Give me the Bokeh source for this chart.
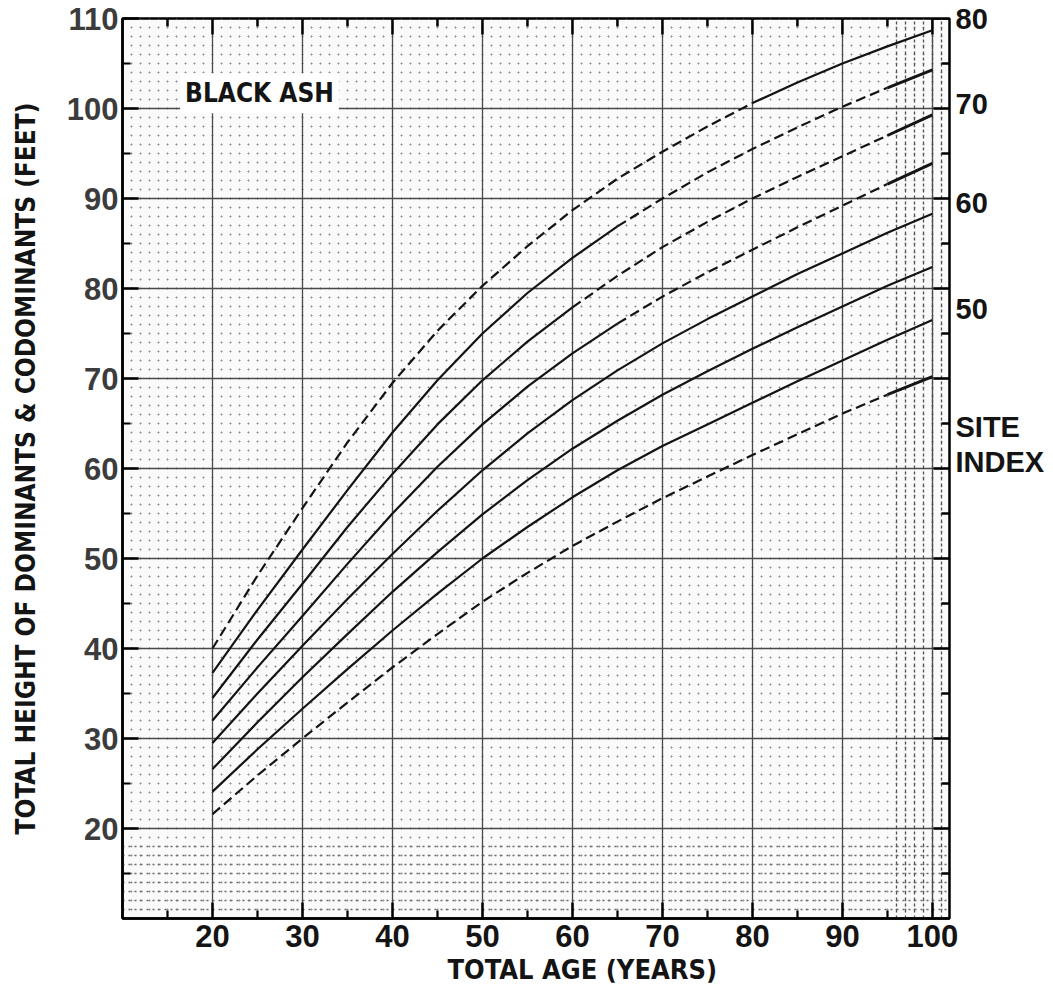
from bokeh.plotting import figure
from bokeh.models import Range1d, LinearAxis, FixedTicker, SingleIntervalTicker, Grid, Label, Title
from bokeh.embed import file_html
from bokeh.resources import INLINE

# ---------------- data ----------------
ages = [20, 25, 30, 35, 40, 45, 50, 55, 60, 65, 70, 75, 80, 85, 90, 95, 100]

si80 = [40.0, 48.1, 55.6, 62.9, 69.5, 75.3, 80.3, 84.7, 88.7, 92.2, 95.2, 98.0, 100.6, 102.9, 105.0, 106.9, 108.7]
si75 = [37.3, 44.3, 51.0, 57.6, 64.0, 69.8, 75.0, 79.5, 83.4, 86.9, 90.0, 92.9, 95.5, 97.9, 100.2, 102.3, 104.3]
si70 = [34.5, 41.0, 47.2, 53.5, 59.4, 64.9, 69.8, 74.1, 77.9, 81.4, 84.6, 87.4, 90.0, 92.4, 94.7, 97.0, 99.3]
si65 = [32.0, 37.9, 43.6, 49.4, 55.0, 60.2, 64.9, 69.1, 72.8, 76.1, 79.1, 81.8, 84.3, 86.8, 89.2, 91.6, 93.9]
si60 = [29.5, 35.0, 40.3, 45.5, 50.5, 55.3, 59.8, 63.9, 67.6, 70.9, 73.9, 76.6, 79.1, 81.6, 83.9, 86.2, 88.3]
si55 = [26.6, 31.8, 36.8, 41.6, 46.3, 50.7, 54.9, 58.7, 62.2, 65.3, 68.2, 70.8, 73.3, 75.7, 78.0, 80.3, 82.4]
si50 = [24.1, 28.8, 33.3, 37.7, 42.0, 46.1, 50.0, 53.5, 56.8, 59.8, 62.5, 64.9, 67.3, 69.7, 72.0, 74.3, 76.5]
si45 = [21.6, 25.9, 30.0, 34.0, 37.9, 41.6, 45.2, 48.4, 51.4, 54.1, 56.7, 59.1, 61.5, 63.8, 66.1, 68.2, 70.2]

site_index = [80, 75, 70, 65, 60, 55, 50, 45]
heights = [si80, si75, si70, si65, si60, si55, si50, si45]

# solid / dashed portions of each curve (age ranges)
segments = {
    80: [(20, 80, "dashed"), (80, 100, "solid")],
    75: [(20, 65, "solid"), (65, 95, "dashed"), (95, 100, "solid")],
    70: [(20, 60, "solid"), (60, 95, "dashed"), (95, 100, "solid")],
    65: [(20, 65, "solid"), (65, 95, "dashed"), (95, 100, "solid")],
    60: [(20, 100, "solid")],
    55: [(20, 100, "solid")],
    50: [(20, 100, "solid")],
    45: [(20, 95, "dashed"), (95, 100, "solid")],
}

x_ticks = [20, 30, 40, 50, 60, 70, 80, 90, 100]
x_minor = [15, 25, 35, 45, 55, 65, 75, 85, 95]
y_ticks = [20, 30, 40, 50, 60, 70, 80, 90, 100, 110]
y_minor = [15, 25, 35, 45, 55, 65, 75, 85, 95, 105]
right_labelled = [80, 70, 60, 50]
site_index_words = {64.6: "SITE", 60.7: "INDEX"}

TITLE_FONT = "DejaVu Sans Condensed, Roboto"
NUM_FONT = "Liberation Sans"
INK = "#141414"

X0, X1, Y0, Y1 = 10, 101.9, 10, 110

p = figure(width=1050, height=996,
           x_range=Range1d(X0, X1), y_range=Range1d(Y0, Y1),
           x_axis_type=None, y_axis_type=None,
           output_backend="svg", toolbar_location=None,
           min_border_left=122, min_border_right=101,
           min_border_top=18, min_border_bottom=78)
p.background_fill_color = "#fafafa"
p.border_fill_color = "white"
p.outline_line_color = "black"
p.outline_line_width = 2.5

# ---------------- graph-paper grid ----------------
grids = [
    Grid(dimension=0, ticker=SingleIntervalTicker(interval=1), grid_line_color="#8e8e8e",
         grid_line_width=1, grid_line_dash="2 7", grid_line_dash_offset=1),
    Grid(dimension=1, ticker=SingleIntervalTicker(interval=1), grid_line_color="#8e8e8e",
         grid_line_width=1, grid_line_dash="2 7", grid_line_dash_offset=1),
    Grid(dimension=0, ticker=SingleIntervalTicker(interval=1), bounds=(96, 101),
         grid_line_color="#505050", grid_line_width=1.3, grid_line_dash="3 3"),
    Grid(dimension=1, ticker=SingleIntervalTicker(interval=1), bounds=(11, 18),
         grid_line_color="#6a6a6a", grid_line_width=1.3, grid_line_dash="2 4"),
    Grid(dimension=0, ticker=SingleIntervalTicker(interval=10), grid_line_color="#4a4a4a",
         grid_line_width=1.3),
    Grid(dimension=1, ticker=SingleIntervalTicker(interval=10), grid_line_color="#4a4a4a",
         grid_line_width=1.3),
]
for g in grids:
    p.add_layout(g)

# ---------------- inward frame ticks on the top and right edges ----------------
px_x = (X1 - X0) / 827.0   # data units per pixel (x)
px_y = (Y1 - Y0) / 900.0   # data units per pixel (y)
MAJ, MIN = 16, 8
for ticks, length in ((y_ticks, MAJ), (y_minor, MIN)):
    p.segment(x0=[X1] * len(ticks), y0=ticks, x1=[X1 - length * px_x] * len(ticks), y1=ticks,
              line_color="black", line_width=2.5)
for ticks, length in ((x_ticks, MAJ), (x_minor, MIN)):
    p.segment(x0=ticks, y0=[Y1] * len(ticks), x1=ticks, y1=[Y1 - length * px_y] * len(ticks),
              line_color="black", line_width=2.5)

# ---------------- curves ----------------
for si, h in zip(site_index, heights):
    for a0, a1, style in segments[si]:
        xs = [a for a in ages if a0 <= a <= a1]
        ys = [hv for a, hv in zip(ages, h) if a0 <= a <= a1]
        thick = a0 >= 95
        p.line(xs, ys, line_color=INK, line_width=3.0 if thick else 2.2,
               line_dash="solid" if style == "solid" else "10 5",
               line_join="round", line_cap="butt")

# ---------------- axes ----------------
def style_axis(ax):
    ax.axis_line_color = "black"
    ax.axis_line_width = 2.5
    ax.major_tick_in = MAJ
    ax.major_tick_out = 0
    ax.minor_tick_in = MIN
    ax.minor_tick_out = 0
    ax.major_tick_line_color = "black"
    ax.major_tick_line_width = 2.5
    ax.minor_tick_line_color = "black"
    ax.minor_tick_line_width = 2.2

bottom = LinearAxis(ticker=FixedTicker(ticks=x_ticks, minor_ticks=x_minor))
style_axis(bottom)
bottom.major_label_text_font = NUM_FONT
bottom.major_label_text_font_style = "bold"
bottom.major_label_text_font_size = "31px"
bottom.major_label_text_color = INK
bottom.major_label_standoff = 6
p.add_layout(bottom, "below")

left = LinearAxis(ticker=FixedTicker(ticks=y_ticks, minor_ticks=y_minor),
                  axis_label="TOTAL HEIGHT OF DOMINANTS & CODOMINANTS (FEET)")
style_axis(left)
left.major_label_text_font = NUM_FONT
left.major_label_text_font_style = "bold"
left.major_label_text_font_size = "31px"
left.major_label_text_color = "#3c3c3c"
left.major_label_standoff = 4
left.axis_label_text_font = TITLE_FONT
left.axis_label_text_font_style = "bold"
left.axis_label_text_font_size = "26px"
left.axis_label_text_color = INK
left.axis_label_standoff = 23
p.add_layout(left, "left")

# site-index labels at the right, at the height each labelled curve ends
lift = 1.2
ends = {si: h[-1] + lift for si, h in zip(site_index, heights) if si in right_labelled}
overrides = {v: str(si) for si, v in ends.items()}
overrides.update(site_index_words)
right_si = LinearAxis(ticker=FixedTicker(ticks=list(ends.values()) + list(site_index_words.keys())),
                      major_label_overrides=overrides)
right_si.axis_line_color = None
right_si.major_tick_line_color = None
right_si.major_tick_in = 0
right_si.major_tick_out = 0
right_si.minor_tick_line_color = None
right_si.major_label_standoff = 6
right_si.major_label_text_font = NUM_FONT
right_si.major_label_text_font_style = "bold"
right_si.major_label_text_font_size = "29px"
right_si.major_label_text_color = INK
p.add_layout(right_si, "right")

# x-axis title (sits right of the frame centre, as in the original)
p.add_layout(Title(text="TOTAL AGE (YEARS)", align="left", offset=325, standoff=4,
                   text_font=TITLE_FONT, text_font_style="bold", text_font_size="27px",
                   text_color=INK), "below")

# species name in the upper-left of the chart
p.add_layout(Label(x=16.4, y=101.7, text="BLACK ASH", text_font=TITLE_FONT,
                   text_font_style="bold", text_font_size="26px", text_color=INK,
                   text_baseline="middle", background_fill_color="white", padding=5))

open("out.html", "w").write(file_html(p, INLINE))
